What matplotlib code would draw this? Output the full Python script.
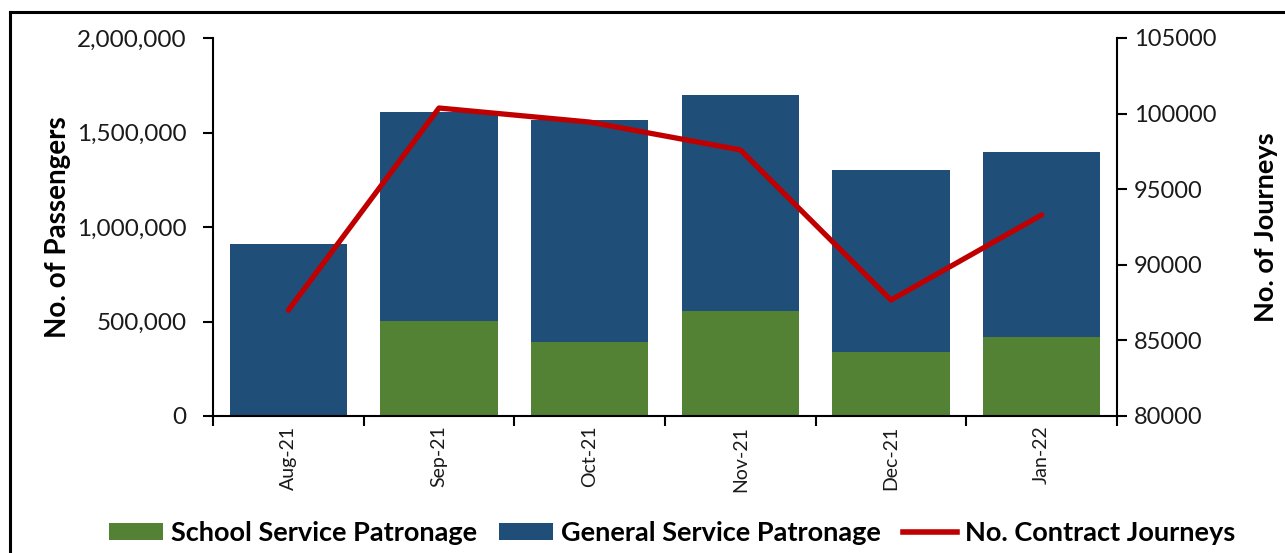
import matplotlib
matplotlib.use("Agg")
import matplotlib.pyplot as plt
from matplotlib.lines import Line2D
from matplotlib.ticker import FuncFormatter, FixedLocator

months = ["Aug-21", "Sep-21", "Oct-21", "Nov-21", "Dec-21", "Jan-22"]
school = [0, 503000, 392000, 556000, 339000, 418000]
general = [910000, 1105000, 1174000, 1142000, 963000, 979000]
journeys = [87000, 100370, 99440, 97600, 87670, 93300]

GREEN = "#548235"
BLUE = "#1F4E79"
RED = "#C00000"
TXT = "#1a1a1a"

plt.rcParams["font.family"] = ["Lato", "DejaVu Sans"]

fig = plt.figure(figsize=(12.85, 5.53), dpi=100)
ax = fig.add_axes([213 / 1285, 1 - 416 / 553, (1117 - 213) / 1285, (416 - 38) / 553])

x = list(range(len(months)))
ax.bar(x, school, width=0.78, color=GREEN, label="School Service Patronage")
ax.bar(x, general, width=0.78, bottom=school, color=BLUE, label="General Service Patronage")

ax.set_xlim(-0.5, len(months) - 0.5)
ax.set_ylim(0, 2000000)
ax.set_yticks(range(0, 2000001, 500000))
ax.yaxis.set_major_formatter(FuncFormatter(lambda v, p: f"{int(v):,}"))
ax.set_xticks(x)
ax.set_xticklabels(months, rotation=90, fontsize=14, color=TXT)
ax.xaxis.set_minor_locator(FixedLocator([i - 0.5 for i in range(len(months) + 1)]))
ax.tick_params(axis="x", which="major", length=0, pad=7)
ax.tick_params(axis="x", which="minor", length=7, width=1.5, direction="out")
ax.tick_params(axis="y", length=7, width=1.5, labelsize=17.5, labelcolor=TXT, pad=12)
ax.set_ylabel("No. of Passengers", fontsize=20, fontweight="bold", labelpad=4)
for s in ["top", "right"]:
    ax.spines[s].set_visible(False)
for s in ["left", "bottom"]:
    ax.spines[s].set_linewidth(1.5)

ax2 = ax.twinx()
ax2.plot(x, journeys, color=RED, linewidth=3.8, solid_capstyle="round",
         label="No. Contract Journeys")
ax2.set_ylim(80000, 105000)
ax2.set_yticks(range(80000, 105001, 5000))
ax2.tick_params(axis="y", length=7, width=1.5, labelsize=17, labelcolor=TXT, pad=5)
ax2.set_ylabel("No. of Journeys", fontsize=19.5, fontweight="bold", labelpad=27)
for s in ["top", "left", "bottom"]:
    ax2.spines[s].set_visible(False)
ax2.spines["right"].set_linewidth(1.5)

h1, l1 = ax.get_legend_handles_labels()
h2 = [Line2D([0], [0], color=RED, linewidth=4)]
leg = fig.legend(h1 + h2, l1 + ["No. Contract Journeys"], loc="center",
                 bbox_to_anchor=(0.523, 1 - 533 / 553), ncol=3, frameon=False,
                 prop={"size": 19.5, "weight": "bold"}, handlelength=2.0,
                 handleheight=0.6, handletextpad=0.3, columnspacing=0.8)

# frame from the original screenshot (left and top edges)
fig.add_artist(Line2D([10 / 1285, 10 / 1285], [0, 1 - 12 / 553], color="black", linewidth=2.2))
fig.add_artist(Line2D([10 / 1285, 1], [1 - 12 / 553, 1 - 12 / 553], color="black", linewidth=2.2))

fig.savefig("out.png", dpi=100)
